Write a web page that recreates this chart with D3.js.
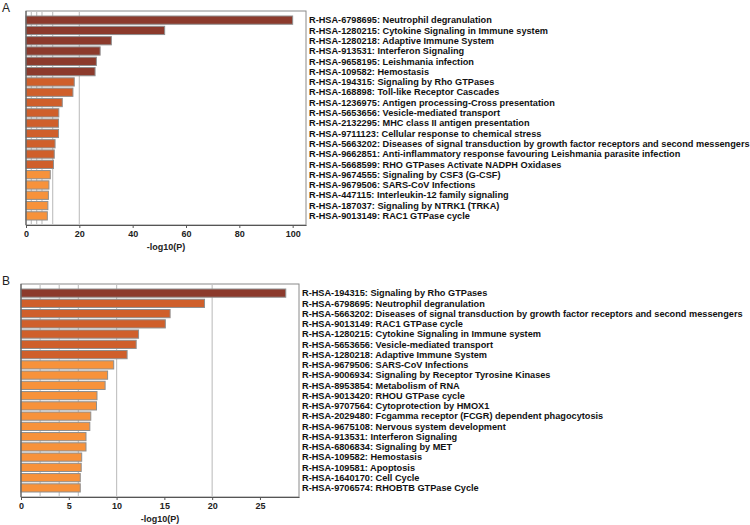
<!DOCTYPE html>
<meta charset="utf-8">
<head>
  <script src="https://d3js.org/d3.v7.min.js"></script>
  <style>
    body { margin: 0; background: #fff; }
    text { font-family: "Liberation Sans", Arial, sans-serif; }
  </style>
</head>
<body>
<div id="chart"></div>
<script>
// panel A terms and -log10(P)
var termsA = [
  "R-HSA-6798695: Neutrophil degranulation",
  "R-HSA-1280215: Cytokine Signaling in Immune system",
  "R-HSA-1280218: Adaptive Immune System",
  "R-HSA-913531: Interferon Signaling",
  "R-HSA-9658195: Leishmania infection",
  "R-HSA-109582: Hemostasis",
  "R-HSA-194315: Signaling by Rho GTPases",
  "R-HSA-168898: Toll-like Receptor Cascades",
  "R-HSA-1236975: Antigen processing-Cross presentation",
  "R-HSA-5653656: Vesicle-mediated transport",
  "R-HSA-2132295: MHC class II antigen presentation",
  "R-HSA-9711123: Cellular response to chemical stress",
  "R-HSA-5663202: Diseases of signal transduction by growth factor receptors and second messengers",
  "R-HSA-9662851: Anti-inflammatory response favouring Leishmania parasite infection",
  "R-HSA-5668599: RHO GTPases Activate NADPH Oxidases",
  "R-HSA-9674555: Signaling by CSF3 (G-CSF)",
  "R-HSA-9679506: SARS-CoV Infections",
  "R-HSA-447115: Interleukin-12 family signaling",
  "R-HSA-187037: Signaling by NTRK1 (TRKA)",
  "R-HSA-9013149: RAC1 GTPase cycle"
];
var valuesA = [100, 52, 32, 27.8, 26.4, 25.9, 18.1, 17.6, 13.6, 12.3,
               12.2, 12.2, 10.9, 10.6, 10.3, 9.1, 8.6, 8.4, 8.2, 8.0];
var ticksA = [0, 20, 40, 60, 80, 100];

// panel B
var termsB = [
  "R-HSA-194315: Signaling by Rho GTPases",
  "R-HSA-6798695: Neutrophil degranulation",
  "R-HSA-5663202: Diseases of signal transduction by growth factor receptors and second messengers",
  "R-HSA-9013149: RAC1 GTPase cycle",
  "R-HSA-1280215: Cytokine Signaling in Immune system",
  "R-HSA-5653656: Vesicle-mediated transport",
  "R-HSA-1280218: Adaptive Immune System",
  "R-HSA-9679506: SARS-CoV Infections",
  "R-HSA-9006934: Signaling by Receptor Tyrosine Kinases",
  "R-HSA-8953854: Metabolism of RNA",
  "R-HSA-9013420: RHOU GTPase cycle",
  "R-HSA-9707564: Cytoprotection by HMOX1",
  "R-HSA-2029480: Fcgamma receptor (FCGR) dependent phagocytosis",
  "R-HSA-9675108: Nervous system development",
  "R-HSA-913531: Interferon Signaling",
  "R-HSA-6806834: Signaling by MET",
  "R-HSA-109582: Hemostasis",
  "R-HSA-109581: Apoptosis",
  "R-HSA-1640170: Cell Cycle",
  "R-HSA-9706574: RHOBTB GTPase Cycle"
];
var valuesB = [27.7, 19.2, 15.6, 15.1, 12.3, 12.05, 11.1, 9.7, 9.06, 8.8,
               7.95, 7.9, 7.3, 7.2, 6.8, 6.8, 6.35, 6.3, 6.2, 6.2];
var ticksB = [0, 5, 10, 15, 20, 25];

// vertical reference lines (p-value cutoffs)
var gridLines = [2, 4, 6, 10, 20];

var width = 750, height = 525;

var svg = d3.select("#chart").append("svg")
    .attr("width", width)
    .attr("height", height);

// bar colour by -log10(P) bin
var color = d3.scaleThreshold()
    .domain([10, 20])
    .range(["#f7923b", "#cf5f2b", "#8c3a2c"]);

function drawPanel(letter, terms, values, ticks, box) {
  var g = svg.append("g");

  var x = d3.scaleLinear()
      .domain([0, d3.max(values) * 1.05])
      .range([box.left, box.right]);

  var y = d3.scaleBand()
      .domain(terms)
      .range([box.top + 5, box.bottom - 5])
      .paddingInner(0.2);

  g.append("text")
      .attr("x", 2)
      .attr("y", box.top + 1)
      .attr("font-size", 12)
      .attr("fill", "#222")
      .text(letter);

  // frame
  g.append("rect")
      .attr("x", box.left)
      .attr("y", box.top)
      .attr("width", box.right - box.left)
      .attr("height", box.bottom - box.top)
      .attr("fill", "#fff")
      .attr("stroke", "#8a8a8a")
      .attr("stroke-width", 1);

  g.append("g").selectAll("line")
      .data(gridLines)
      .join("line")
      .attr("x1", function(d) { return x(d); })
      .attr("x2", function(d) { return x(d); })
      .attr("y1", box.top)
      .attr("y2", box.bottom)
      .attr("stroke", "#c4c4c4")
      .attr("stroke-width", 1.2);

  g.append("g").selectAll("rect")
      .data(values)
      .join("rect")
      .attr("x", x(0))
      .attr("y", function(d, i) { return y(terms[i]); })
      .attr("width", function(d) { return x(d) - x(0); })
      .attr("height", y.bandwidth())
      .attr("fill", function(d) { return color(d); })
      .attr("stroke", "#8f8f8f")
      .attr("stroke-width", 1);

  // left edge
  g.append("line")
      .attr("x1", box.left).attr("x2", box.left)
      .attr("y1", box.top).attr("y2", box.bottom)
      .attr("stroke", "#555");

  var axis = d3.axisBottom(x)
      .tickValues(ticks)
      .tickSize(3)
      .tickSizeOuter(0)
      .tickPadding(3);

  var ax = g.append("g")
      .attr("transform", "translate(0," + box.bottom + ")")
      .call(axis);
  ax.select(".domain").attr("stroke", "#555");
  ax.selectAll(".tick line").attr("stroke", "#555");
  ax.selectAll(".tick text")
      .attr("font-size", 9)
      .attr("font-weight", "bold")
      .attr("font-family", "Liberation Sans, Arial, sans-serif")
      .attr("fill", "#222");

  g.append("text")
      .attr("x", (box.left + box.right) / 2)
      .attr("y", box.bottom + 25)
      .attr("text-anchor", "middle")
      .attr("font-size", 9)
      .attr("font-weight", "bold")
      .attr("fill", "#222")
      .text("-log10(P)");

  g.append("g").selectAll("text")
      .data(terms)
      .join("text")
      .attr("x", box.right + 3)
      .attr("y", function(d) { return y(d) + y.bandwidth() / 2; })
      .attr("dy", "0.35em")
      .attr("font-size", 9.2)
      .attr("font-weight", "bold")
      .attr("fill", "#111")
      .text(function(d) { return d; });
}

drawPanel("A", termsA, valuesA, ticksA, {left: 26, right: 306, top: 11, bottom: 225});
drawPanel("B", termsB, valuesB, ticksB, {left: 21, right: 299, top: 284, bottom: 497});
</script>
</body>
